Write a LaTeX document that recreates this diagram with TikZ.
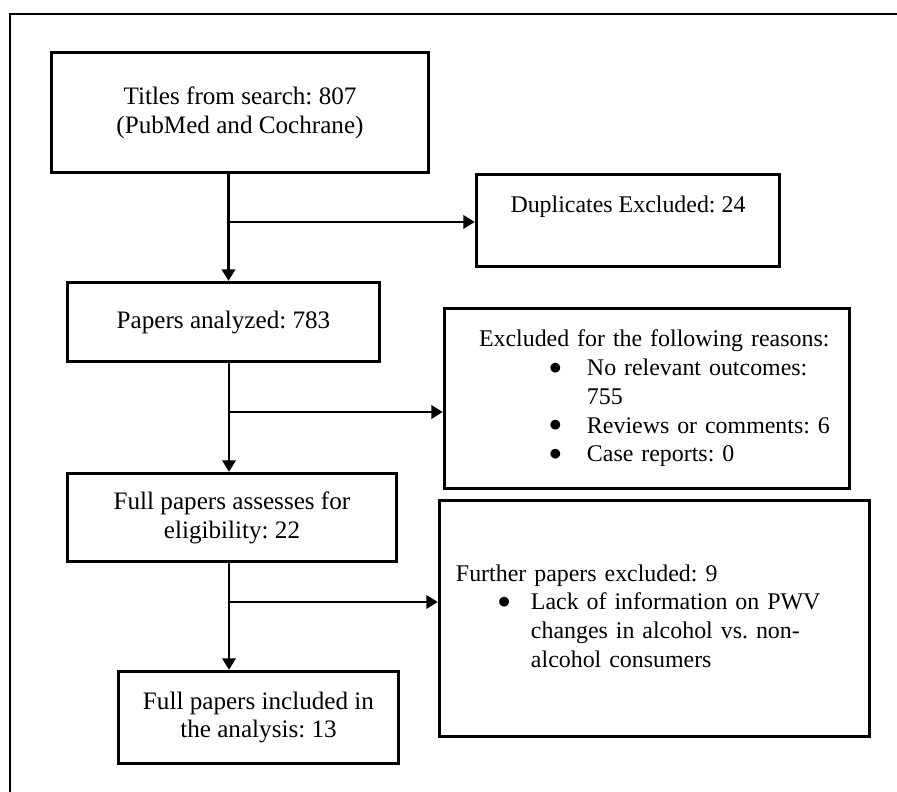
\documentclass[tikz,border=0pt]{standalone}
\usepackage{fontspec}
\setmainfont{Liberation Serif}
\usetikzlibrary{arrows.meta,calc,positioning}
\tikzset{>={Triangle[length=6.5pt,width=7.5pt]},
  every node/.style={font=\fontsize{14.3}{16.4}\selectfont\frenchspacing},
  box/.style={draw,line width=1.9pt,inner sep=0pt,align=center},
  sidebox/.style={box,font=\fontsize{13.6}{16.4}\selectfont\frenchspacing},
  flow/.style={->,line width=1.6pt},
  frame/.style={draw,line width=1.1pt}}
\newcommand{\dotitem}{\raisebox{0.1ex}{$\bullet$}}

\begin{document}
\begin{tikzpicture}
\useasboundingbox(0,0)rectangle(17.94,-15.84);
\draw[frame](0.2,-15.9)--(0.2,-0.28)--(18,-0.28);
\node[box,minimum width=7.54cm,minimum height=2.4cm](titles)at(4.8,-2.25){Titles from search: 807\\(PubMed and Cochrane)};
\node[sidebox,minimum width=6.06cm,minimum height=1.84cm,text height=0.75cm,text depth=1.09cm](dupl)at(12.56,-4.41){Duplicates Excluded: 24};
\node[box,minimum width=6.24cm,minimum height=1.58cm](analyzed)at(4.47,-6.44){Papers analyzed: 783};
\node[sidebox,minimum width=8.1cm,minimum height=3.6cm,text width=8.1cm,align=left](excl)at(12.94,-7.97){\noindent\hspace*{0.69cm}\begin{tabular}{@{}p{1.4cm}@{}p{0.76cm}@{}l@{}}
\multicolumn{3}{@{}l@{}}{Excluded for the following reasons:}\\&\dotitem&No relevant outcomes:\\&&755\\&\dotitem&Reviews or comments: 6\\&\dotitem&Case reports: 0\end{tabular}};
\node[box,minimum width=6.58cm,minimum height=1.76cm](assessed)at(4.64,-10.35){Full papers assesses for\\eligibility: 22};
\node[sidebox,minimum width=8.6cm,minimum height=4.72cm,text width=8.6cm,align=left](further)at(13.09,-12.37){\noindent\hspace*{0.33cm}\begin{tabular}{@{}p{0.84cm}@{}p{0.66cm}@{}l@{}}
\multicolumn{3}{@{}l@{}}{Further papers excluded: 9}\\&\dotitem&Lack of information on PWV\\&&changes in alcohol vs. non-\\&&alcohol consumers\end{tabular}};
\node[box,minimum width=5.6cm,minimum height=1.84cm](included)at(5.17,-14.35){Full papers included in\\the analysis: 13};
\coordinate(j1)at(4.57,-4.44);\coordinate(j2)at(4.58,-8.24);\coordinate(j3)at(4.58,-12.04);
\draw[flow](j1|-titles.south)--(j1|-analyzed.north);\draw[flow](j1)--(j1-|dupl.west);
\draw[flow](j2|-analyzed.south)--(j2|-assessed.north);\draw[flow](j2)--(j2-|excl.west);
\draw[flow](j3|-assessed.south)--(j3|-included.north);\draw[flow](j3)--(j3-|further.west);
\end{tikzpicture}
\end{document}
